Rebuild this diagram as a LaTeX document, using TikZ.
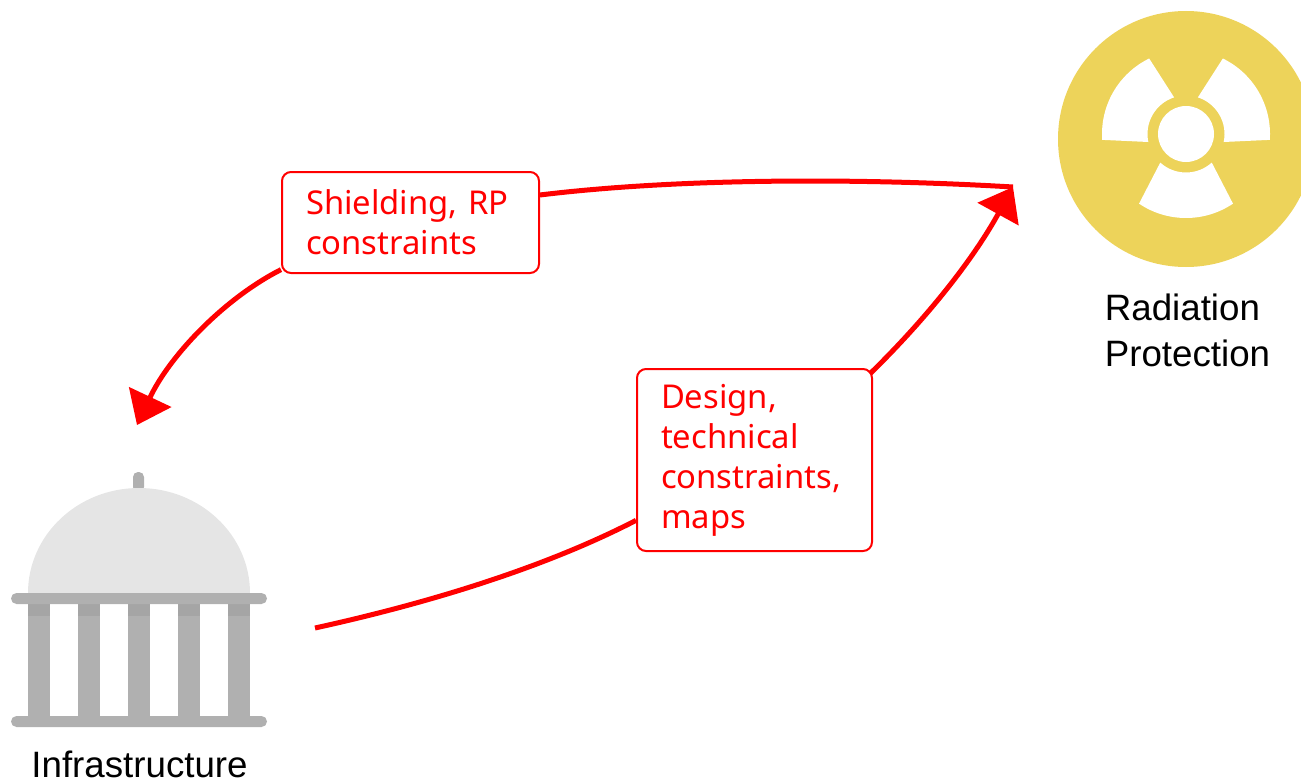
\documentclass[tikz,border=0pt]{standalone}
\usepackage{fontspec}
\setmainfont{Liberation Sans}
\newfontfamily\boxfont{Noto Sans}
\usepackage{xcolor}
\usetikzlibrary{arrows.meta}
\definecolor{H1}{HTML}{ff0000}
\definecolor{H2}{HTML}{edd35a}
\definecolor{H3}{HTML}{b0b0b0}
\definecolor{H4}{HTML}{a5a5a5}
\definecolor{H5}{HTML}{e5e5e5}

\begin{document}
\begin{tikzpicture}[
	x=1pt, y=-1pt,
	label/.style = {inner sep=0, align=left, font=\fontsize{36.7}{46}\selectfont},
	vertex/.style = {draw=H1, rectangle, rounded corners=9pt, line width=2pt, fill=white, align=left, text=H1, inner xsep=24pt, inner ysep=0,
		font=\boxfont\fontsize{32.8}{40}\selectfont},
	flow/.style = {draw=H1, line width=5pt},
	tipflow/.style = {flow, -{Triangle[length=31pt, width=46pt]}}
]
  \useasboundingbox (0, 0) rectangle (1301, 784);

  % Radiation sign
  \fill[H2] (1186, 139) circle (128);
  \begin{scope}[shift={(1186, 134)}]
    \foreach \a in {-184, -64, 56} {
      \fill[white] (\a-8:38.5) arc (\a-8:\a+76:38.5) -- (\a+68:84) arc (\a+68:\a:84) -- cycle;
    }
    \fill[white] (0, 0) circle (28);
  \end{scope}

  % Building
  \fill[H3, rounded corners=5pt] (133, 472) rectangle (144, 492);
  \fill[H5] (28, 593) arc (180:360:111 and 105) -- cycle;
  \foreach \x in {28, 78, 128, 178, 228} {
    \fill[H3] (\x, 600) rectangle (\x+22, 720);
    \fill[H4] (\x, 600) rectangle (\x+22, 616);
  }
  \fill[H3, rounded corners=5.5pt] (11, 593) rectangle (267, 604);
  \fill[H3, rounded corners=5.5pt] (11, 716) rectangle (267, 727);

  % Define vertices
  \node[label] at (1187.5, 330) (radiation) {Radiation \\ Protection};
  \node[label, anchor=base] at (139.5, 777) (infrastructure) {Infrastructure};
  \node[vertex, text width=209pt, minimum height=101pt] at (410.5, 222.5) (shield) {Shielding, RP \\ constraints};
  \node[vertex, text width=187pt, minimum height=182pt] at (754.5, 460) (design) {Design, \\ technical \\ constraints, \\ maps};

  \coordinate (radtip) at (1013, 187);
  \coordinate (infratip) at (137, 425);
  \coordinate (infrastart) at (315, 628);

  % Edges
  \draw[flow] (radtip) .. controls (860, 178) and (680, 178) .. (shield.12);
  \draw[tipflow] (shield.200) .. controls (225, 298) and (170, 355) .. (infratip);
  \draw[flow] (infrastart) .. controls (420, 605) and (540, 570) .. (design.207);
  \draw[tipflow] ([shift={(-3, 3)}]design.37) .. controls (920, 325) and (970, 265) .. (radtip);
\end{tikzpicture}
\end{document}
